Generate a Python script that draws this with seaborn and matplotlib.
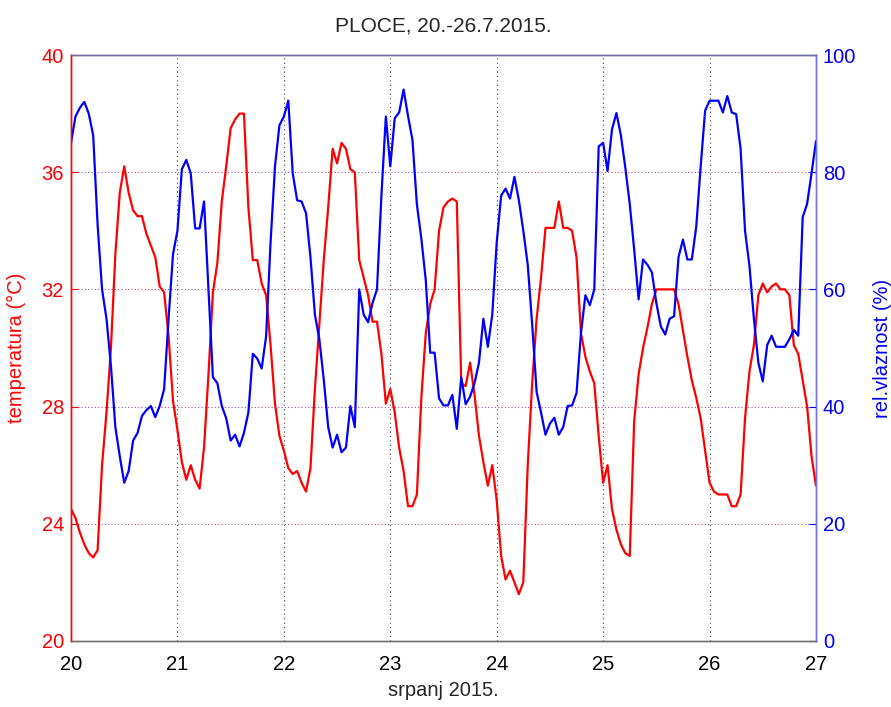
import numpy as np
import pandas as pd
import matplotlib
matplotlib.use('Agg')
import matplotlib.pyplot as plt
import seaborn as sns

# Satne vrijednosti, Ploce 20.-27.7.2015.
temperatura = [
    24.5, 24.2, 23.7, 23.3, 23.0, 22.85, 23.1, 26.0, 27.8, 30.0, 33.2, 35.3,
    36.2, 35.3, 34.7, 34.5, 34.5, 33.9, 33.5, 33.1, 32.1, 31.9, 30.4, 28.2,
    27.2, 26.1, 25.5, 26.0, 25.5, 25.2, 26.6, 29.1, 31.9, 32.9, 35.0, 36.2,
    37.5, 37.8, 38.0, 38.0, 34.8, 33.0, 33.0, 32.2, 31.8, 30.1, 28.1, 27.0,
    26.5, 25.9, 25.7, 25.8, 25.4, 25.1, 25.9, 28.6, 30.8, 33.0, 34.8, 36.8,
    36.3, 37.0, 36.8, 36.1, 36.0, 33.0, 32.4, 31.8, 30.9, 30.9, 29.8, 28.1,
    28.6, 27.8, 26.6, 25.8, 24.6, 24.6, 25.0, 28.3, 30.5, 31.5, 32.0, 34.0,
    34.8, 35.0, 35.1, 35.0, 28.8, 28.7, 29.5, 28.4, 27.0, 26.1, 25.3, 26.0,
    24.8, 22.9, 22.1, 22.4, 22.0, 21.6, 22.0, 26.0, 28.8, 31.0, 32.4, 34.1,
    34.1, 34.1, 35.0, 34.1, 34.1, 34.0, 33.1, 30.5, 29.7, 29.2, 28.8, 27.0,
    25.4, 26.0, 24.5, 23.8, 23.3, 23.0, 22.9, 27.5, 29.1, 30.0, 30.7, 31.5,
    32.0, 32.0, 32.0, 32.0, 32.0, 31.5, 30.6, 29.7, 28.9, 28.3, 27.6, 26.5,
    25.4, 25.1, 25.0, 25.0, 25.0, 24.6, 24.6, 25.0, 27.6, 29.2, 30.1, 31.8,
    32.2, 31.9, 32.1, 32.2, 32.0, 32.0, 31.8, 30.1, 29.8, 28.9, 28.0, 26.3,
    25.3,
]

vlaznost = [
    85.0, 89.5, 91.0, 92.0, 90.0, 86.3, 71.0, 60.0, 55.0, 47.0, 36.5, 31.5,
    27.0, 29.0, 34.2, 35.5, 38.4, 39.4, 40.1, 38.2, 40.1, 43.0, 55.0, 66.0,
    70.0, 80.5, 82.1, 79.8, 70.4, 70.4, 75.0, 60.0, 45.0, 44.0, 40.1, 38.0,
    34.2, 35.2, 33.2, 35.5, 39.0, 49.0, 48.2, 46.5, 52.0, 68.0, 81.0, 88.0,
    89.5, 92.2, 79.8, 75.2, 75.0, 73.0, 65.5, 55.7, 51.5, 44.6, 36.5, 33.0,
    35.2, 32.2, 33.0, 40.1, 36.5, 60.0, 55.7, 54.4, 57.7, 60.0, 76.0, 89.5,
    81.0, 89.2, 90.2, 94.1, 89.6, 85.5, 74.5, 68.7, 61.6, 49.2, 49.2, 41.4,
    40.2, 40.2, 42.0, 36.2, 45.0, 40.4, 41.7, 44.0, 47.5, 55.0, 50.2, 55.7,
    68.0, 76.0, 77.2, 75.5, 79.2, 75.2, 70.0, 64.2, 54.0, 42.5, 39.0, 35.2,
    37.1, 38.1, 35.2, 36.5, 40.1, 40.2, 42.3, 52.5, 59.0, 57.3, 60.0, 84.4,
    85.0, 80.2, 87.3, 90.1, 86.3, 80.8, 74.6, 66.8, 58.3, 65.1, 64.2, 62.9,
    57.7, 53.7, 52.3, 55.0, 55.4, 65.5, 68.5, 65.1, 65.1, 70.7, 81.0, 90.5,
    92.2, 92.2, 92.2, 90.2, 93.0, 90.2, 89.9, 84.0, 70.0, 64.0, 55.0, 47.5,
    44.3, 50.5, 52.1, 50.2, 50.2, 50.2, 51.5, 53.1, 52.1, 72.3, 74.6, 79.8,
    85.3,
]

dani_ticks = [20, 21, 22, 23, 24, 25, 26, 27]
temp_ticks = [20, 24, 28, 32, 36, 40]
vlaz_ticks = [0, 20, 40, 60, 80, 100]

df = pd.DataFrame({
    'dan': 20 + np.arange(len(temperatura)) / 24.0,
    'temperatura': temperatura,
    'vlaznost': vlaznost,
})

sns.set_style('white')
plt.rcParams['font.family'] = ['Liberation Sans', 'DejaVu Sans']

fig = plt.figure(figsize=(8.91, 7.07), dpi=100)
ax1 = fig.add_axes([0.0797, 0.0934, 0.8361, 0.8288])
ax2 = ax1.twinx()

crvena = '#ff0000'
plava = '#0000ff'

sns.lineplot(data=df, x='dan', y='temperatura', ax=ax1, color=crvena, lw=1.6)
sns.lineplot(data=df, x='dan', y='vlaznost', ax=ax2, color=plava, lw=1.6)

ax1.set_xlim(20, 27)
ax1.set_ylim(20, 40)
ax2.set_ylim(0, 100)
ax1.set_xticks(dani_ticks)
ax1.set_yticks(temp_ticks)
ax2.set_yticks(vlaz_ticks)

# mreza kao u matlabu
for d in dani_ticks[1:-1]:
    ax1.axvline(d, color='#404040', ls=(0, (1, 3)), lw=0.8, zorder=0)
for t in temp_ticks[1:-1]:
    ax1.axhline(t, color='#a050a0', ls=(0, (1, 2)), lw=0.8, zorder=0)

fs = 14.5
ax1.tick_params(axis='x', direction='in', length=5, colors='#606060',
                labelcolor='black', labelsize=fs, pad=10)
ax1.tick_params(axis='y', direction='in', length=5, colors=crvena,
                labelcolor=crvena, labelsize=fs, pad=5)
ax2.tick_params(axis='y', direction='in', length=5, colors=plava,
                labelcolor=plava, labelsize=fs, pad=5)

for a in (ax1, ax2):
    a.spines['top'].set_color('#7070a0')
    a.spines['bottom'].set_color('#707070')
    a.spines['left'].set_color(crvena)
    a.spines['right'].set_color('#7070ff')
    for s in a.spines.values():
        s.set_linewidth(1.0)

ax1.set_xlabel('srpanj 2015.', fontsize=fs, labelpad=5)
ax1.set_ylabel('temperatura (°C)', fontsize=fs, color=crvena, labelpad=11)
ax2.set_ylabel('rel.vlaznost (%)', fontsize=fs, color=plava, labelpad=12)
ax1.set_title('PLOCE, 20.-26.7.2015.', fontsize=15, pad=17)

fig.savefig('out.png', dpi=100)
